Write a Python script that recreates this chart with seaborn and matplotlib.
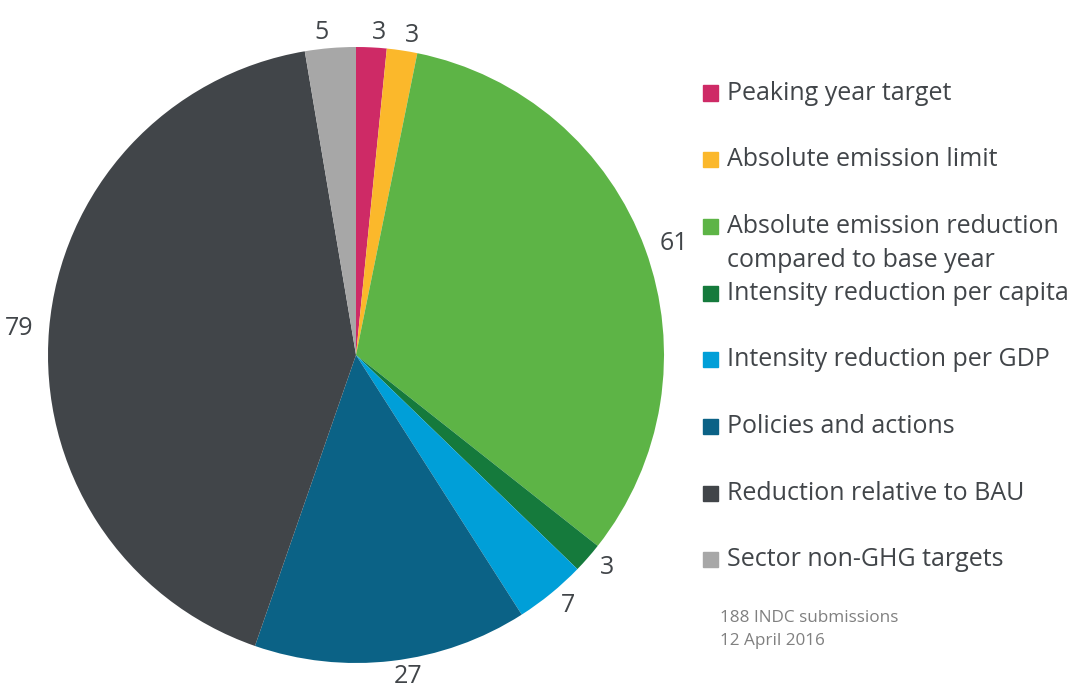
import matplotlib
matplotlib.use("Agg")
import matplotlib.pyplot as plt
import matplotlib.patches as mpatches
import seaborn as sns

categories = [
    "Peaking year target",
    "Absolute emission limit",
    "Absolute emission reduction\ncompared to base year",
    "Intensity reduction per capita",
    "Intensity reduction per GDP",
    "Policies and actions",
    "Reduction relative to BAU",
    "Sector non-GHG targets",
]
values = [3, 3, 61, 3, 7, 27, 79, 5]
colors = ["#CE2A66", "#FBB82B", "#5DB446", "#157A3C", "#009FD8", "#0B6286", "#414549", "#A7A7A7"]
note_lines = ["188 INDC submissions", "12 April 2016"]

sns.set_theme(style="white")
plt.rcParams["font.family"] = ["Open Sans", "DejaVu Sans"]
TEXT = "#414549"

W, H = 1076, 688
fig = plt.figure(figsize=(W / 100, H / 100), dpi=100)
cx, cy, R = 356, 355, 308
ax = fig.add_axes([(cx - R) / W, (H - cy - R) / H, 2 * R / W, 2 * R / H])
wedges, texts = ax.pie(
    values, colors=colors, startangle=90, counterclock=False,
    labels=[str(v) for v in values], labeldistance=1.05,
    wedgeprops=dict(linewidth=0), radius=1,
    textprops=dict(color=TEXT, fontsize=18),
)
ax.set_xlim(-1, 1)
ax.set_ylim(-1, 1)
ax.set_aspect("equal")
ax.axis("off")

# legend
lx, ly0, step = 703, 93, 66.7
sq = 15
for i, (lab, col) in enumerate(zip(categories, colors)):
    y = ly0 + i * step
    fig.patches.append(mpatches.Rectangle(((lx) / W, (H - y - sq / 2) / H), sq / W, sq / H,
                                          transform=fig.transFigure, color=col, figure=fig))
    for k, line in enumerate(lab.split("\n")):
        fig.text(727 / W, (H - (y + k * 34)) / H, line, va="center", ha="left",
                 fontsize=18, color=TEXT)

for k, line in enumerate(note_lines):
    fig.text(720 / W, (H - (618 + k * 23)) / H, line, va="center", ha="left",
             fontsize=12.3, color="#808080")

fig.savefig("out.png", dpi=100)
